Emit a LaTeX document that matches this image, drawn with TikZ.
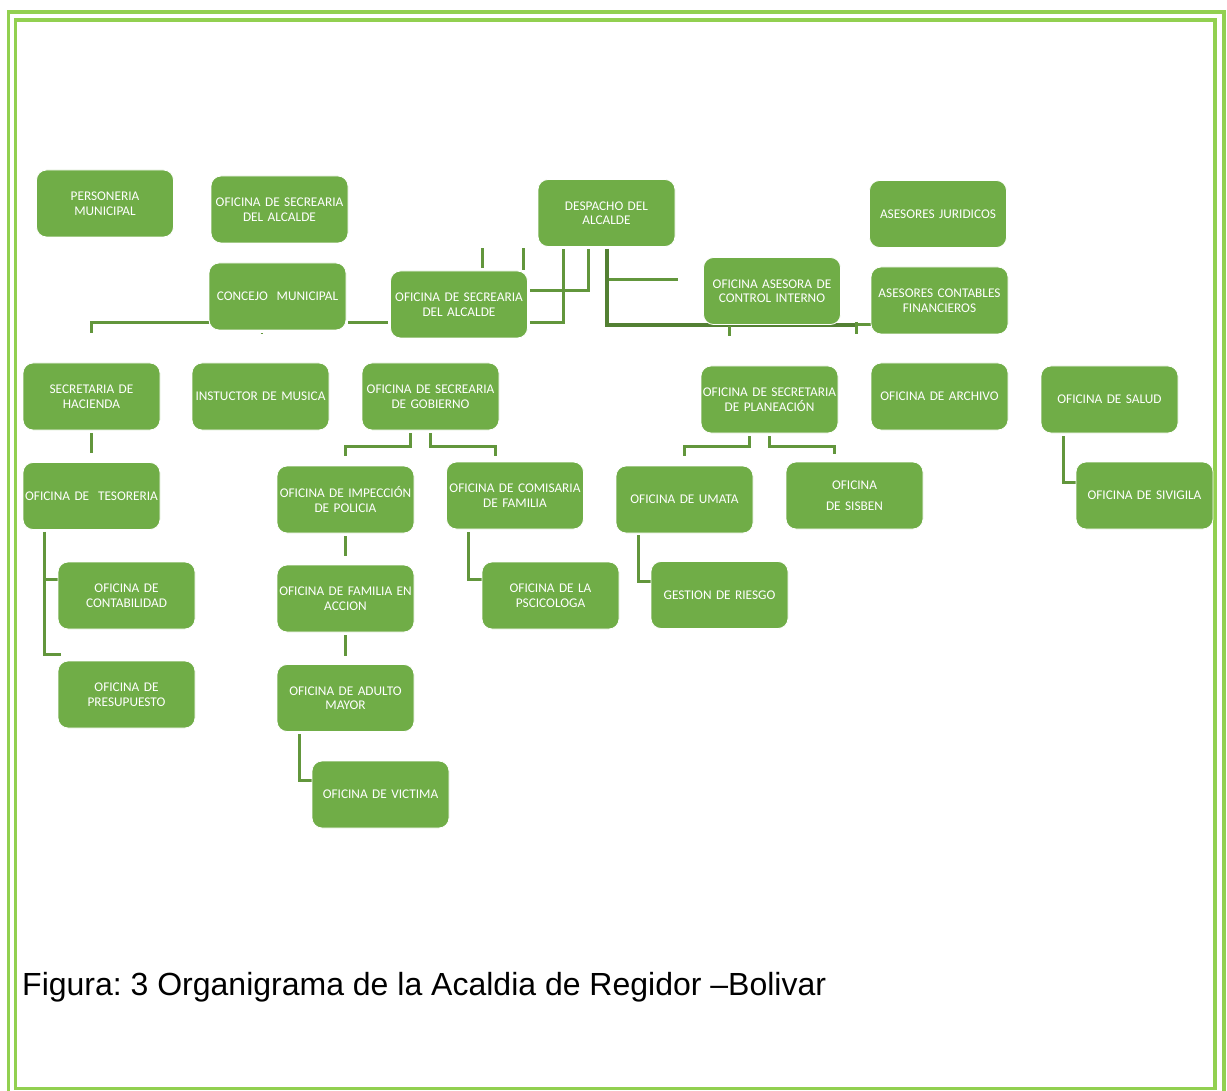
\documentclass[tikz,border=0pt]{standalone}
\usepackage{fontspec}
\setmainfont{Carlito}
\newfontfamily\capfont{Liberation Sans}
\usetikzlibrary{backgrounds}
\definecolor{framegreen}{HTML}{92D050}
\definecolor{unitfill}{HTML}{70AD47}
\definecolor{linkgreen}{RGB}{98,150,60}
\frenchspacing

\begin{document}
\begin{tikzpicture}[x=1pt,y=-1pt,
  unit/.style={draw=white, line width=0.8pt, fill=unitfill, rounded corners=10pt,
    minimum width=137pt, minimum height=67pt, inner sep=0pt, text width=135pt,
    align=center, text=white, font=\fontsize{13.3}{14.5}\selectfont},
  link/.style={draw=linkgreen, line width=3pt},
  trunk/.style={draw=linkgreen!85!black, line width=4.5pt},
  border/.style={draw=framegreen, line width=3.6pt}]

\useasboundingbox (0,0) rectangle (1227,1091);

% ---- top level units
\node[unit] (personeria) at (105,203.5)   {PERSONERIA\\MUNICIPAL};
\node[unit] (secalcA)    at (279.5,209.5) {OFICINA DE SECREARIA\\DEL ALCALDE};
\node[unit] (concejo)    at (277.5,296.5) {CONCEJO\ \ MUNICIPAL};
\node[unit] (despacho)   at (606.5,213)   {DESPACHO DEL\\ALCALDE};
\node[unit] (secalcB)    at (459,304.5)   {OFICINA DE SECREARIA\\DEL ALCALDE};
\node[unit] (control)    at (772,291)     {OFICINA ASESORA DE\\CONTROL INTERNO};
\node[unit] (juridicos)  at (938,214)     {ASESORES JURIDICOS};
\node[unit] (contables)  at (939.5,300.5) {ASESORES CONTABLES\\FINANCIEROS};

% ---- secretariats and offices
\node[unit] (hacienda)   at (91.5,396.5)  {SECRETARIA DE\\HACIENDA};
\node[unit] (musica)     at (260.5,396.5) {INSTUCTOR DE MUSICA};
\node[unit] (gobierno)   at (430.5,396.5) {OFICINA DE SECREARIA\\DE GOBIERNO};
\node[unit] (planeacion) at (769.5,399.5) {OFICINA DE SECRETARIA\\DE PLANEACIÓN};
\node[unit] (archivo)    at (939.5,396.5) {OFICINA DE ARCHIVO};
\node[unit] (salud)      at (1109.5,399.5){OFICINA DE SALUD};

\node[unit] (tesoreria)  at (91.5,496)    {OFICINA DE\ \ TESORERIA};
\node[unit] (policia)    at (345.5,499.5) {OFICINA DE IMPECCIÓN\\DE POLICIA};
\node[unit] (comisaria)  at (515,495.5)   {OFICINA DE COMISARIA\\DE FAMILIA};
\node[unit] (umata)      at (684.5,499.5) {OFICINA DE UMATA};
\node[unit] (sisben)     at (854.5,495.5) {OFICINA\\[6pt]DE SISBEN};
\node[unit] (sivigila)   at (1144.5,495.5){OFICINA DE SIVIGILA};

\node[unit] (contabilidad) at (126.5,595.5) {OFICINA DE\\CONTABILIDAD};
\node[unit] (familia)    at (345.5,598.5) {OFICINA DE FAMILIA EN\\ACCION};
\node[unit] (psicologa)  at (550.5,595.5) {OFICINA DE LA\\PSCICOLOGA};
\node[unit] (riesgo)     at (719.5,595)   {GESTION DE RIESGO};

\node[unit] (presupuesto) at (126.5,694.5) {OFICINA DE\\PRESUPUESTO};
\node[unit] (adulto)     at (345.5,698)   {OFICINA DE ADULTO\\MAYOR};
\node[unit] (victima)    at (380.5,794.5) {OFICINA DE VICTIMA};

% ---- caption
\node[anchor=base west, inner sep=0pt, font=\capfont\fontsize{32}{36}\selectfont]
  (caption) at (22,995) {Figura: 3 Organigrama de la Acaldia de Regidor –Bolivar};

\begin{scope}[on background layer]
  % page frame: double green rule
  \draw[border] (8.5,1100) |- (1224,12) -- (1224,1100);
  \draw[border] (15.5,20) rectangle (1215,1088.5);

  % connectors around the mayor's office
  \draw[link] ([yshift=-26.5pt]concejo.west) -| ([yshift=30pt]hacienda.north);
  \draw[link, shorten <=2pt, shorten >=2pt] ([yshift=-26.5pt]concejo.east) -- ([yshift=-18.5pt]secalcB.west);
  \draw[link, line width=1.5pt] ([xshift=-17pt,yshift=-3pt]concejo.south) -- ++(2,0);
  \draw[link] ([xshift=23pt,yshift=3pt]secalcB.north) -- ++(0,-20);
  \draw[link] ([xshift=64pt,yshift=1pt]secalcB.north) -- ++(0,-22);
  \draw[link] ([xshift=2pt,yshift=13.5pt]secalcB.east) -| ([xshift=-18.5pt,yshift=-2pt]despacho.south);
  \draw[link] ([xshift=2pt,yshift=-18.5pt]secalcB.east) -| ([xshift=-43.5pt,yshift=-2pt]despacho.south);
  \draw[link] ([xshift=0.5pt,yshift=-2pt]despacho.south) |- ([xshift=-25pt,yshift=11pt]control.west);
  \draw[trunk] ([xshift=0.5pt,yshift=-2pt]despacho.south) |- ([xshift=-13pt,yshift=-24.5pt]contables.west);
  \draw[link] ([xshift=-14pt,yshift=-24.5pt]contables.west) -- ([yshift=-24.5pt]contables.west);
  \draw[link] ([xshift=-14pt,yshift=-21.5pt]contables.west) -- ++(0,12);
  \draw[link] ([xshift=-43pt,yshift=-1pt]control.south) -- ++(0,10);

  % hacienda branch
  \draw[link, shorten <=3pt, shorten >=9.5pt] (hacienda.south) -- (tesoreria.north);
  \draw[link] ([xshift=-47pt,yshift=-2pt]tesoreria.south) |- ([yshift=16pt]contabilidad.west);
  \draw[link] ([xshift=-47pt,yshift=-2pt]tesoreria.south) |- ([xshift=3pt,yshift=6pt]presupuesto.north west);

  % gobierno branch
  \draw[link] ([xshift=-20.5pt,yshift=-3pt]gobierno.south) -- ++(0,13) -| ([yshift=10pt]policia.north);
  \draw[link] ([xshift=-0.5pt,yshift=-3pt]gobierno.south) -- ++(0,13) -| ([xshift=-20pt,yshift=6pt]comisaria.north);
  \draw[link, shorten <=3pt, shorten >=9pt] (policia.south) -- (familia.north);
  \draw[link, shorten <=3pt, shorten >=8.5pt] (familia.south) -- (adulto.north);
  \draw[link] ([xshift=-46.5pt,yshift=-2pt]adulto.south) |- ([yshift=14.5pt]victima.west);
  \draw[link] ([xshift=-47pt,yshift=-3pt]comisaria.south) |- ([yshift=16.5pt]psicologa.west);

  % planeacion branch
  \draw[link] ([xshift=-20.5pt,yshift=-3pt]planeacion.south) -- ++(0,10) -| ([yshift=9.5pt]umata.north);
  \draw[link] ([xshift=-0.5pt,yshift=-3pt]planeacion.south) -- ++(0,10) -| ([xshift=-20.5pt,yshift=8pt]sisben.north);
  \draw[link] ([xshift=-46.5pt,yshift=-2pt]umata.south) |- ([yshift=14pt]riesgo.west);

  % salud branch
  \draw[link] ([xshift=-46.5pt,yshift=-3pt]salud.south) |- ([yshift=13.5pt]sivigila.west);
\end{scope}
\end{tikzpicture}
\end{document}
